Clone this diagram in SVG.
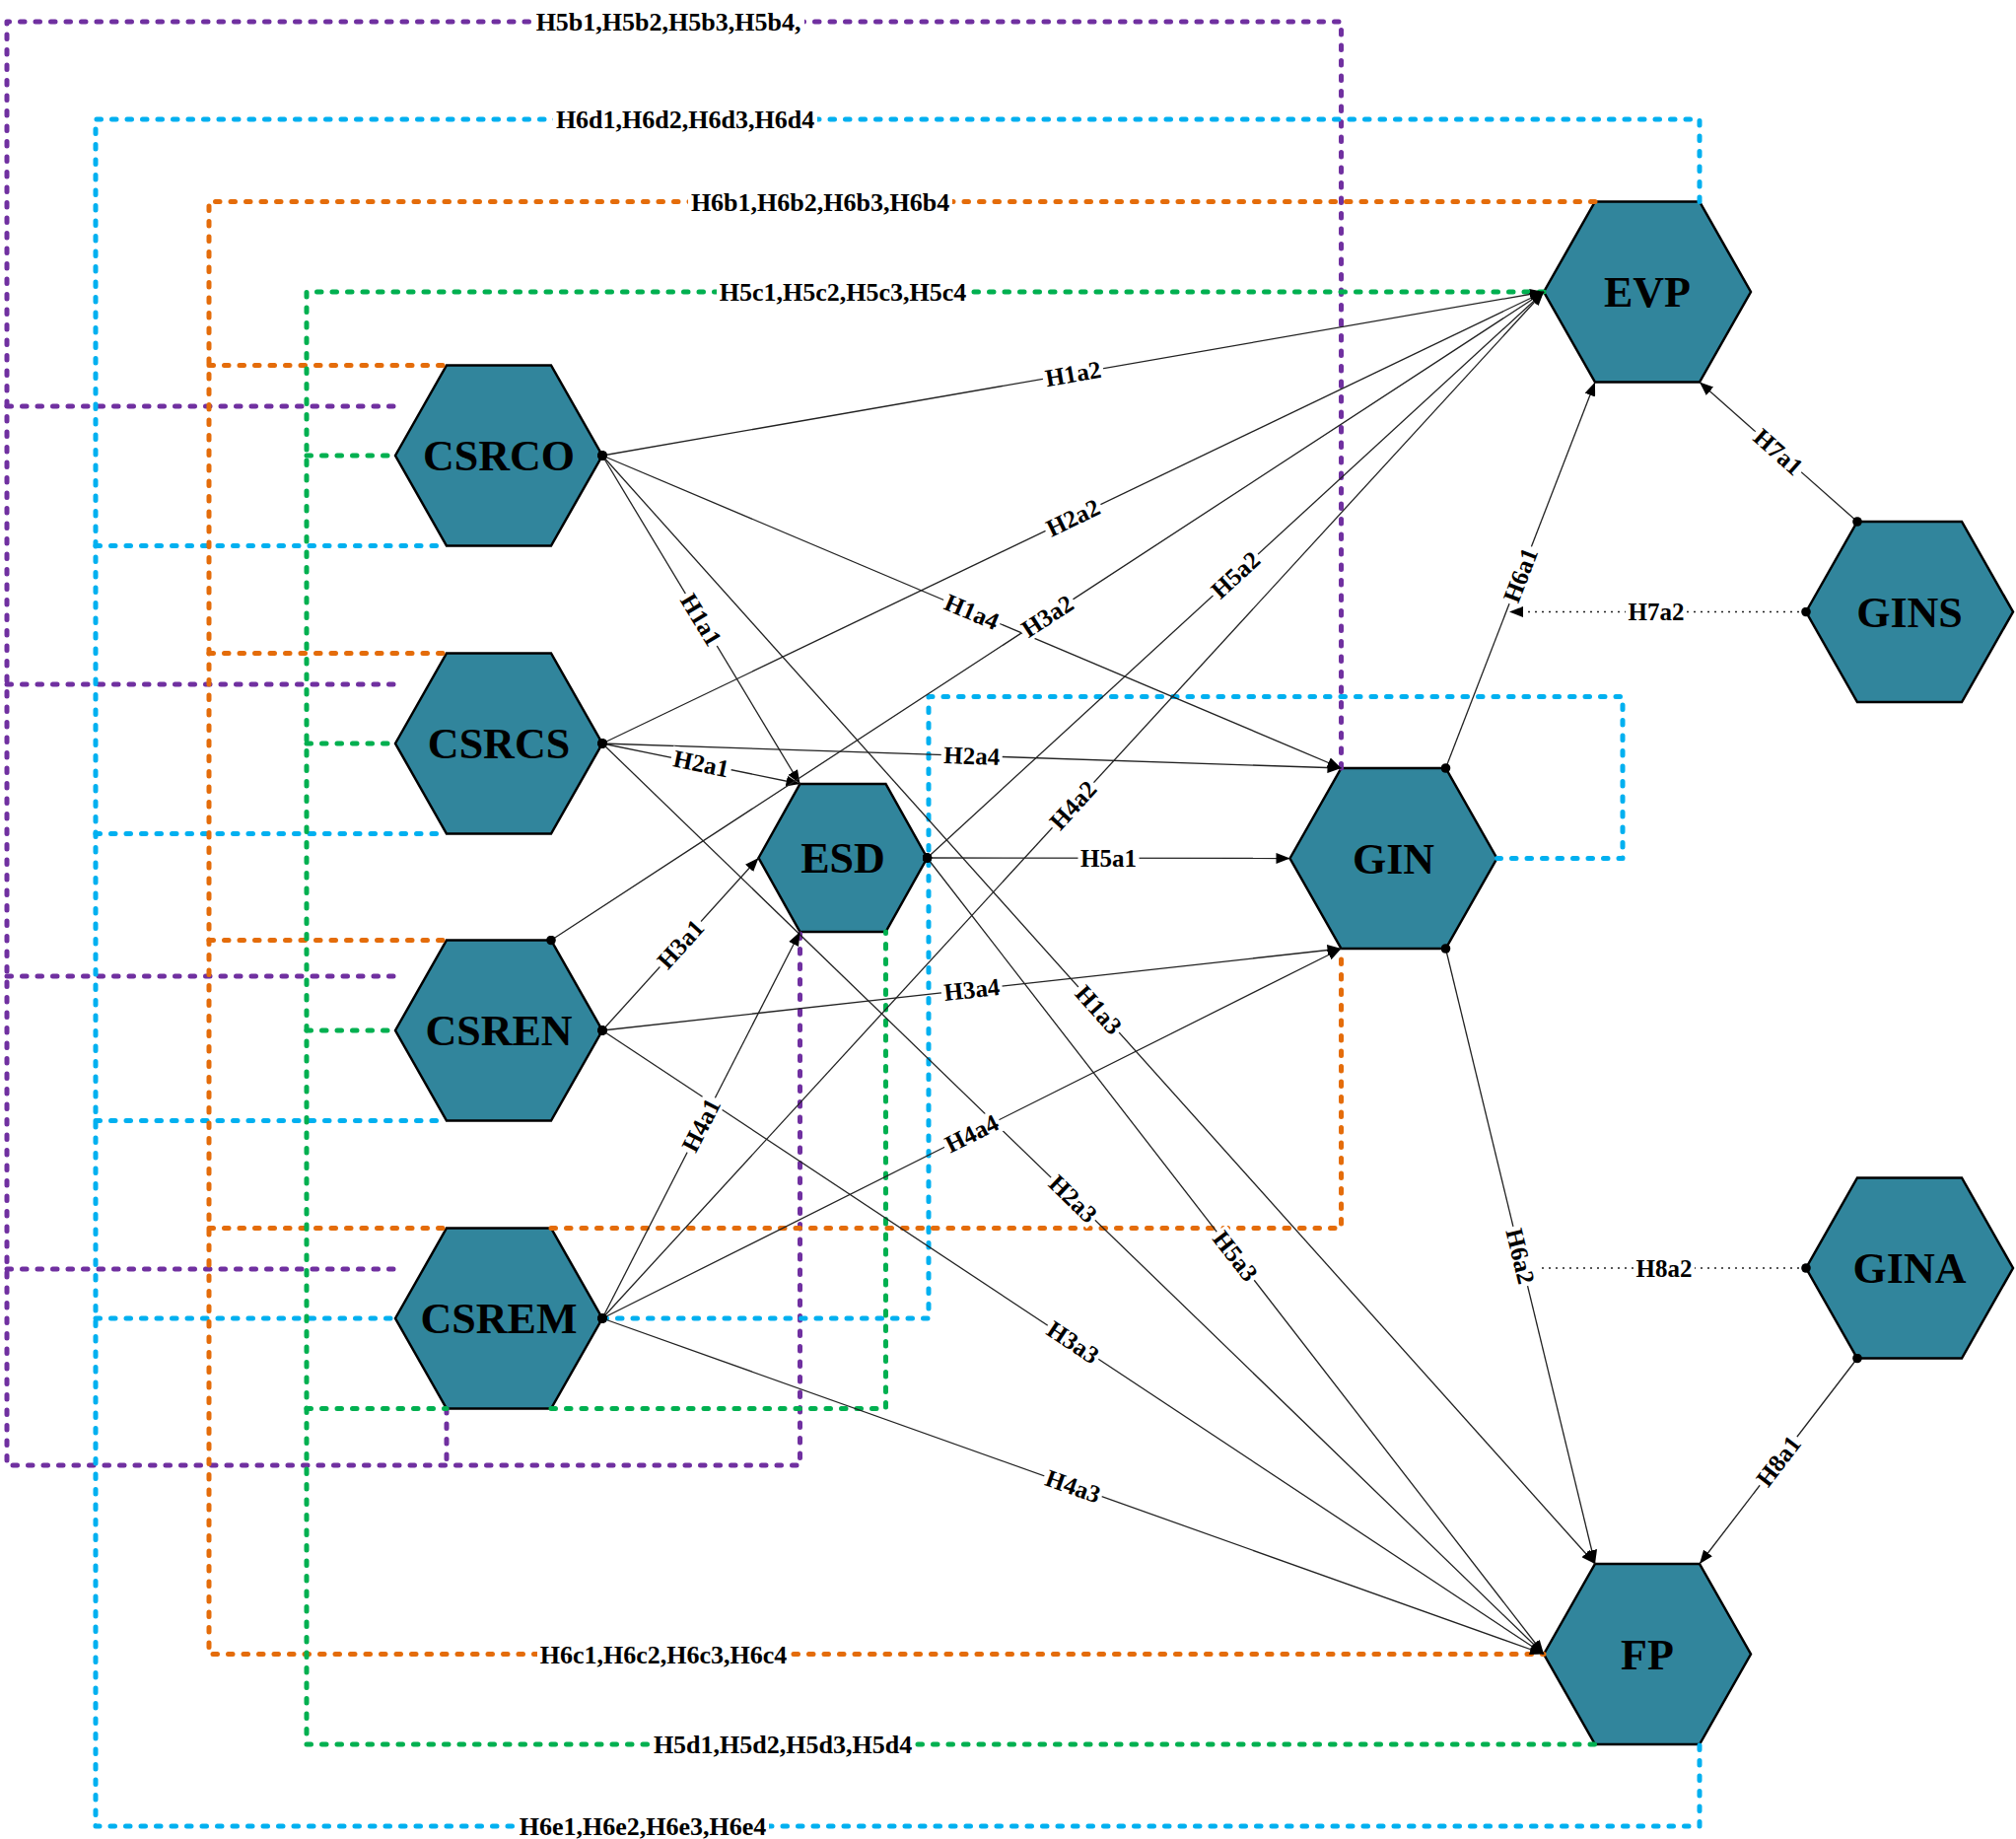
<svg xmlns="http://www.w3.org/2000/svg" width="2045" height="1865" viewBox="0 0 2045 1865">
<style>
.hex{fill:#31859C;stroke:#000;stroke-width:2.5;stroke-linejoin:miter}
.nl{font-family:"Liberation Serif","Times New Roman",serif;font-weight:bold;font-size:44px;text-anchor:middle;fill:#000}
.el{font-family:"Liberation Serif","Times New Roman",serif;font-weight:bold;font-size:25px;text-anchor:middle;fill:#000}
.dl{font-family:"Liberation Serif","Times New Roman",serif;font-weight:bold;font-size:26px;text-anchor:middle;fill:#000}
.bg{fill:#fff}
.sl{fill:none;stroke:#222;stroke-width:1.3;marker-start:url(#dot);marker-end:url(#arr)}
.dt{fill:none;stroke:#222;stroke-width:1.6;stroke-dasharray:2 5;marker-start:url(#dot)}
.d{fill:none;stroke-width:5;stroke-dasharray:4.5 11;stroke-linecap:round;stroke-linejoin:round}
.pu{stroke:#7030A0}.bl{stroke:#00B0F0}.or{stroke:#E46C0A}.gr{stroke:#00B050}
</style>
<defs>
<marker id="arr" viewBox="0 0 14 11" refX="14" refY="5.5" markerWidth="14" markerHeight="11" markerUnits="userSpaceOnUse" orient="auto"><path d="M0,0 L14,5.5 L0,11 z" fill="#000"/></marker>
<marker id="dot" viewBox="0 0 10 10" refX="5" refY="5" markerWidth="10" markerHeight="10" markerUnits="userSpaceOnUse"><circle cx="5" cy="5" r="4.8" fill="#000"/></marker>
</defs>
<rect width="2045" height="1865" fill="#fff"/>

<g id="node-CSRCO"><polygon class="hex" points="401,462 453,370.5 559,370.5 611,462 559,553.5 453,553.5"/><text class="nl" x="506" y="477">CSRCO</text></g>
<g id="node-CSRCS"><polygon class="hex" points="401,754 453,662.5 559,662.5 611,754 559,845.5 453,845.5"/><text class="nl" x="506" y="769">CSRCS</text></g>
<g id="node-CSREN"><polygon class="hex" points="401,1045 453,953.5 559,953.5 611,1045 559,1136.5 453,1136.5"/><text class="nl" x="506" y="1060">CSREN</text></g>
<g id="node-CSREM"><polygon class="hex" points="401,1337 453,1245.5 559,1245.5 611,1337 559,1428.5 453,1428.5"/><text class="nl" x="506" y="1352">CSREM</text></g>
<g id="node-ESD"><polygon class="hex" points="769.5,870 811.5,795 898.5,795 940.5,870 898.5,945 811.5,945"/><text class="nl" x="855" y="885">ESD</text></g>
<g id="node-GIN"><polygon class="hex" points="1308.5,870.5 1360.5,779 1466.5,779 1518.5,870.5 1466.5,962 1360.5,962"/><text class="nl" x="1413.5" y="885.5">GIN</text></g>
<g id="node-EVP"><polygon class="hex" points="1566,296 1618,204.5 1724,204.5 1776,296 1724,387.5 1618,387.5"/><text class="nl" x="1671" y="311">EVP</text></g>
<g id="node-GINS"><polygon class="hex" points="1832,620.5 1884,529 1990,529 2042,620.5 1990,712 1884,712"/><text class="nl" x="1937" y="635.5">GINS</text></g>
<g id="node-GINA"><polygon class="hex" points="1832,1286 1884,1194.5 1990,1194.5 2042,1286 1990,1377.5 1884,1377.5"/><text class="nl" x="1937" y="1301">GINA</text></g>
<g id="node-FP"><polygon class="hex" points="1566,1677.5 1618,1586 1724,1586 1776,1677.5 1724,1769 1618,1769"/><text class="nl" x="1671" y="1692.5">FP</text></g>

<g id="connectors">
<path class="d pu" d="M1360.5,779 V22 H7 V1486 H811.5 V945"/>
<path class="d pu" d="M7,412 H405 M7,694 H405 M7,990 H405 M7,1287 H405 M453,1428.5 V1486"/>
<path class="d bl" d="M1724,204.5 V121 H97 V1852 H1724 V1769"/>
<path class="d bl" d="M97,553.5 H453 M97,845.5 H453 M97,1136.5 H453 M97,1337 H401"/>
<path class="d bl" d="M611,1337 H942 V706.5 H1646 V870.5 H1518.5"/>
<path class="d or" d="M1618,204.5 H212 V1677.5 H1566"/>
<path class="d or" d="M212,370.5 H453 M212,662.5 H453 M212,953.5 H453 M212,1245.5 H453"/>
<path class="d or" d="M559,1245.5 H1360.5 V962"/>
<path class="d gr" d="M1566,296 H311 V1769 H1618"/>
<path class="d gr" d="M311,462 H401 M311,754 H401 M311,1045 H401 M311,1428.5 H453"/>
<path class="d gr" d="M559,1428.5 H898.5 V945"/>

<line class="sl" x1="611" y1="462" x2="1566" y2="296"/>
<line class="sl" x1="611" y1="462" x2="811.5" y2="795"/>
<line class="sl" x1="611" y1="462" x2="1360.5" y2="779"/>
<line class="sl" x1="611" y1="462" x2="1618" y2="1586"/>
<line class="sl" x1="611" y1="754" x2="1566" y2="296"/>
<line class="sl" x1="611" y1="754" x2="811.5" y2="795"/>
<line class="sl" x1="611" y1="754" x2="1360.5" y2="779"/>
<line class="sl" x1="611" y1="754" x2="1566" y2="1677.5"/>
<line class="sl" x1="559" y1="953.5" x2="1566" y2="296"/>
<line class="sl" x1="611" y1="1045" x2="769.5" y2="870"/>
<line class="sl" x1="611" y1="1045" x2="1360.5" y2="962"/>
<line class="sl" x1="611" y1="1045" x2="1566" y2="1677.5"/>
<line class="sl" x1="611" y1="1337" x2="811.5" y2="945"/>
<line class="sl" x1="611" y1="1337" x2="1566" y2="296"/>
<line class="sl" x1="611" y1="1337" x2="1360.5" y2="962"/>
<line class="sl" x1="611" y1="1337" x2="1566" y2="1677.5"/>
<line class="sl" x1="940.5" y1="870" x2="1308.5" y2="870.5"/>
<line class="sl" x1="940.5" y1="870" x2="1566" y2="296"/>
<line class="sl" x1="940.5" y1="870" x2="1566" y2="1677.5"/>
<line class="sl" x1="1466.5" y1="779" x2="1618" y2="387.5"/>
<line class="sl" x1="1466.5" y1="962" x2="1618" y2="1586"/>
<line class="sl" x1="1884" y1="529" x2="1724" y2="387.5"/>
<line class="sl" x1="1884" y1="1377.5" x2="1724" y2="1586"/>
<line class="dt" x1="1832" y1="620.5" x2="1531" y2="620.5" style="marker-end:url(#arr)"/>
<line class="dt" x1="1832" y1="1286" x2="1561" y2="1286"/>

<g transform="translate(678,22)"><rect class="bg" x="-138" y="-13" width="276" height="26"/><text class="dl" y="9">H5b1,H5b2,H5b3,H5b4,</text></g>
<g transform="translate(695,121)"><rect class="bg" x="-134" y="-13" width="268" height="26"/><text class="dl" y="9">H6d1,H6d2,H6d3,H6d4</text></g>
<g transform="translate(832,204.5)"><rect class="bg" x="-134" y="-13" width="268" height="26"/><text class="dl" y="9">H6b1,H6b2,H6b3,H6b4</text></g>
<g transform="translate(855,296)"><rect class="bg" x="-128" y="-13" width="256" height="26"/><text class="dl" y="9">H5c1,H5c2,H5c3,H5c4</text></g>
<g transform="translate(673,1677.5)"><rect class="bg" x="-128" y="-13" width="256" height="26"/><text class="dl" y="9">H6c1,H6c2,H6c3,H6c4</text></g>
<g transform="translate(794,1769)"><rect class="bg" x="-134" y="-13" width="268" height="26"/><text class="dl" y="9">H5d1,H5d2,H5d3,H5d4</text></g>
<g transform="translate(652,1852)"><rect class="bg" x="-128" y="-13" width="256" height="26"/><text class="dl" y="9">H6e1,H6e2,H6e3,H6e4</text></g>

<g transform="translate(1088.5,379) rotate(-9.86)"><rect class="bg" x="-31" y="-12" width="62" height="24"/><text class="el" y="8.5">H1a2</text></g>
<g transform="translate(711.25,628.5) rotate(58.95)"><rect class="bg" x="-31" y="-12" width="62" height="24"/><text class="el" y="8.5">H1a1</text></g>
<g transform="translate(985.75,620.5) rotate(22.93)"><rect class="bg" x="-31" y="-12" width="62" height="24"/><text class="el" y="8.5">H1a4</text></g>
<g transform="translate(1114.5,1024) rotate(48.14)"><rect class="bg" x="-31" y="-12" width="62" height="24"/><text class="el" y="8.5">H1a3</text></g>
<g transform="translate(1088.5,525) rotate(-25.62)"><rect class="bg" x="-31" y="-12" width="62" height="24"/><text class="el" y="8.5">H2a2</text></g>
<g transform="translate(711.25,774.5) rotate(11.56)"><rect class="bg" x="-31" y="-12" width="62" height="24"/><text class="el" y="8.5">H2a1</text></g>
<g transform="translate(985.75,766.5) rotate(1.91)"><rect class="bg" x="-31" y="-12" width="62" height="24"/><text class="el" y="8.5">H2a4</text></g>
<g transform="translate(1088.5,1215.75) rotate(44.04)"><rect class="bg" x="-31" y="-12" width="62" height="24"/><text class="el" y="8.5">H2a3</text></g>
<g transform="translate(1062.5,624.75) rotate(-33.14)"><rect class="bg" x="-31" y="-12" width="62" height="24"/><text class="el" y="8.5">H3a2</text></g>
<g transform="translate(690.25,957.5) rotate(-47.84)"><rect class="bg" x="-31" y="-12" width="62" height="24"/><text class="el" y="8.5">H3a1</text></g>
<g transform="translate(985.75,1003.5) rotate(-6.32)"><rect class="bg" x="-31" y="-12" width="62" height="24"/><text class="el" y="8.5">H3a4</text></g>
<g transform="translate(1088.5,1361.25) rotate(33.51)"><rect class="bg" x="-31" y="-12" width="62" height="24"/><text class="el" y="8.5">H3a3</text></g>
<g transform="translate(711.25,1141) rotate(-62.91)"><rect class="bg" x="-31" y="-12" width="62" height="24"/><text class="el" y="8.5">H4a1</text></g>
<g transform="translate(1088.5,816.5) rotate(-47.47)"><rect class="bg" x="-31" y="-12" width="62" height="24"/><text class="el" y="8.5">H4a2</text></g>
<g transform="translate(985.75,1149.5) rotate(-26.58)"><rect class="bg" x="-31" y="-12" width="62" height="24"/><text class="el" y="8.5">H4a4</text></g>
<g transform="translate(1088.5,1507.25) rotate(19.63)"><rect class="bg" x="-31" y="-12" width="62" height="24"/><text class="el" y="8.5">H4a3</text></g>
<g transform="translate(1124.5,870.25)"><rect class="bg" x="-31" y="-12" width="62" height="24"/><text class="el" y="8.5">H5a1</text></g>
<g transform="translate(1253.25,583) rotate(-42.54)"><rect class="bg" x="-31" y="-12" width="62" height="24"/><text class="el" y="8.5">H5a2</text></g>
<g transform="translate(1253.25,1273.75) rotate(52.24)"><rect class="bg" x="-31" y="-12" width="62" height="24"/><text class="el" y="8.5">H5a3</text></g>
<g transform="translate(1542.25,583.25) rotate(-68.85)"><rect class="bg" x="-31" y="-12" width="62" height="24"/><text class="el" y="8.5">H6a1</text></g>
<g transform="translate(1542.25,1274) rotate(76.35)"><rect class="bg" x="-31" y="-12" width="62" height="24"/><text class="el" y="8.5">H6a2</text></g>
<g transform="translate(1804,458.25) rotate(41.49)"><rect class="bg" x="-31" y="-12" width="62" height="24"/><text class="el" y="8.5">H7a1</text></g>
<g transform="translate(1680,620.5)"><rect class="bg" x="-31" y="-12" width="62" height="24"/><text class="el" y="8.5">H7a2</text></g>
<g transform="translate(1804,1481.75) rotate(-52.5)"><rect class="bg" x="-31" y="-12" width="62" height="24"/><text class="el" y="8.5">H8a1</text></g>
<g transform="translate(1688,1286)"><rect class="bg" x="-31" y="-12" width="62" height="24"/><text class="el" y="8.5">H8a2</text></g>
</g>
</svg>
